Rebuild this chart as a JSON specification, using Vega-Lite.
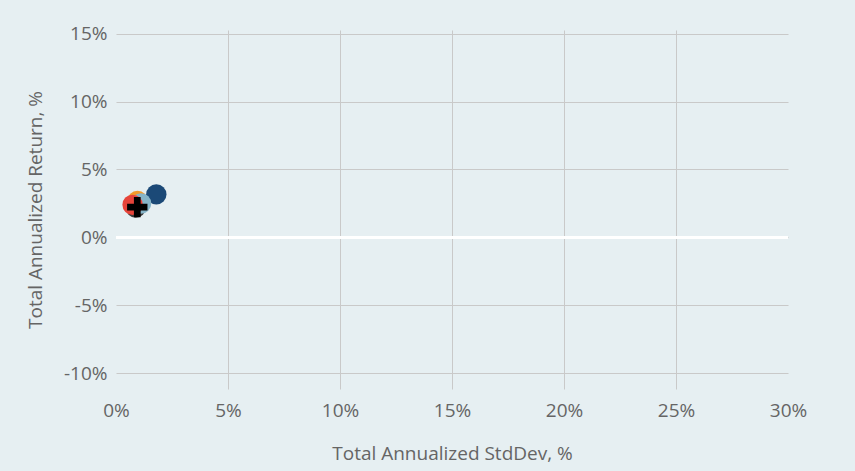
{
  "$schema": "https://vega.github.io/schema/vega-lite/v6.json",
  "autosize": {"type": "none"},
  "padding": {"left": 116, "top": 30, "right": 67, "bottom": 82},
  "width": 672,
  "height": 359,
  "background": "#e6eff2",
  "config": {
    "view": {"stroke": null},
    "axis": {
      "domain": false,
      "ticks": false,
      "labelFlush": false,
      "labelFont": "Open Sans",
      "labelFontSize": 19,
      "labelColor": "#656565",
      "titleFont": "Open Sans",
      "titleFontSize": 19,
      "titleFontWeight": "normal",
      "titleColor": "#656565",
      "gridColor": "#c9c9c9",
      "gridWidth": 1
    }
  },
  "data": {
    "values": [
      {"series": "Fund A", "sd": 1.8, "ret": 3.17},
      {"series": "Fund B", "sd": 0.96, "ret": 2.69},
      {"series": "Fund C", "sd": 0.88, "ret": 2.2},
      {"series": "Fund D", "sd": 1.12, "ret": 2.5},
      {"series": "Fund E", "sd": 0.74, "ret": 2.4},
      {"series": "Benchmark", "sd": 0.95, "ret": 2.23}
    ]
  },
  "layer": [
    {
      "mark": {"type": "rule", "color": "white", "strokeWidth": 3},
      "encoding": {"y": {"datum": 0, "type": "quantitative"}}
    },
    {
      "mark": {"type": "point", "filled": true, "opacity": 1},
      "encoding": {
        "x": {
          "field": "sd",
          "type": "quantitative",
          "title": "Total Annualized StdDev, %",
          "scale": {"domain": [0, 30], "nice": false, "zero": false},
          "axis": {
            "grid": true,
            "values": [0, 5, 10, 15, 20, 25, 30],
            "labelExpr": "datum.value + '%'",
            "labelPadding": 12,
            "titlePadding": 24,
            "gridColor": {"condition": {"test": "datum.value == 0 || datum.value == 30", "value": "transparent"}, "value": "#c9c9c9"}
          }
        },
        "y": {
          "field": "ret",
          "type": "quantitative",
          "title": "Total Annualized Return, %",
          "scale": {"domain": [-11.16, 15.27], "nice": false, "zero": false},
          "axis": {
            "grid": true,
            "values": [-10, -5, 0, 5, 10, 15],
            "labelExpr": "datum.value + '%'",
            "labelPadding": 9,
            "titlePadding": 18
          }
        },
        "color": {
          "field": "series",
          "type": "nominal",
          "legend": null,
          "sort": null,
          "scale": {
            "domain": ["Fund A", "Fund B", "Fund C", "Fund D", "Fund E", "Benchmark"],
            "range": ["#1b4977", "#f29b2c", "#3d3d3d", "#86b4c8", "#e6443a", "#000000"]
          }
        },
        "shape": {
          "field": "series",
          "type": "nominal",
          "legend": null,
          "scale": {
            "domain": ["Fund A", "Fund B", "Fund C", "Fund D", "Fund E", "Benchmark"],
            "range": ["circle", "circle", "circle", "circle", "circle", "M-1,-0.33H-0.33V-1H0.33V-0.33H1V0.33H0.33V1H-0.33V0.33H-1Z"]
          }
        },
        "size": {
          "field": "series",
          "type": "nominal",
          "legend": null,
          "scale": {
            "domain": ["Fund A", "Fund B", "Fund C", "Fund D", "Fund E", "Benchmark"],
            "range": [415, 415, 415, 415, 415, 530]
          }
        }
      }
    }
  ]
}
